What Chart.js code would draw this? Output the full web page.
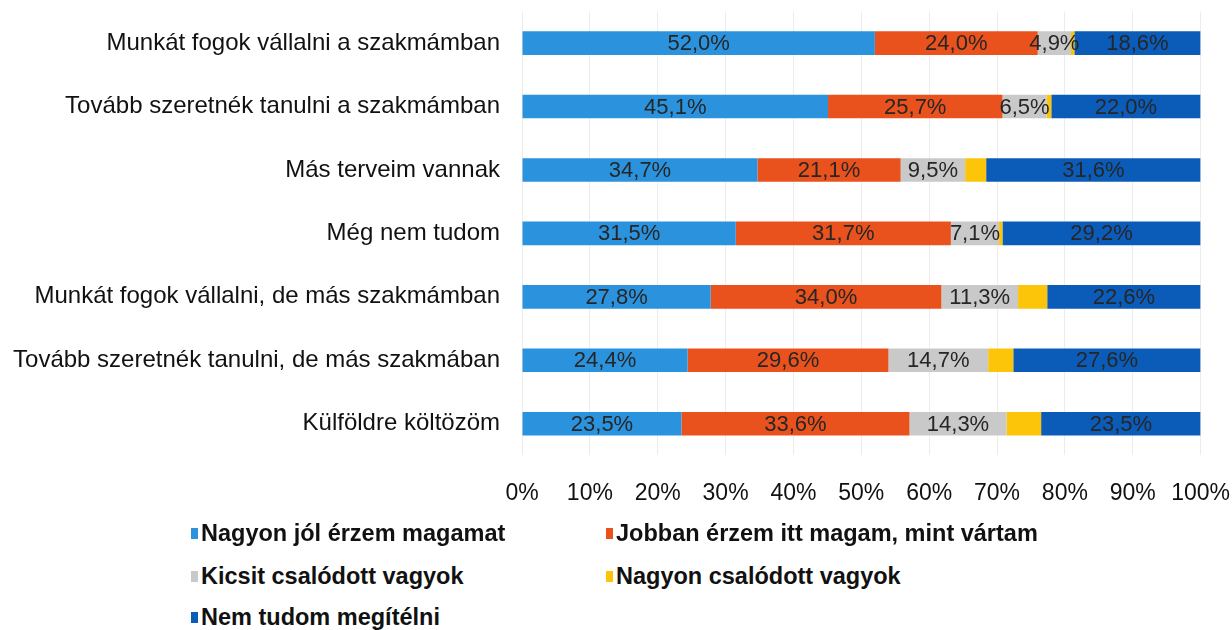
<!DOCTYPE html>
<html>
<head>
<meta charset="utf-8">
<script src="https://cdn.jsdelivr.net/npm/chart.js@4"></script>
<style>
  body { margin: 0; background: #fff; font-family: "Liberation Sans", Arial, sans-serif; }
  .wrap { position: relative; width: 1232px; height: 630px; overflow: hidden; }
  .chart-box { position: absolute; left: 0; top: -17px; width: 1254px; height: 548px; }
  .legend { position: absolute; left: 0; top: 0; width: 1232px; z-index: 2; }
  .legend .item { position: absolute; font-weight: bold; font-size: 23.5px; color: #111; white-space: nowrap; }
  .legend .sw { display: inline-block; width: 7px; height: 11px; margin-right: 3px; vertical-align: 2px; }
</style>
</head>
<body>
<div class="wrap">
  <div class="chart-box"><canvas id="chart"></canvas></div>
  <div class="legend" id="legend"></div>
</div>
<script>
const categories = [
  'Munkát fogok vállalni a szakmámban',
  'Tovább szeretnék tanulni a szakmámban',
  'Más terveim vannak',
  'Még nem tudom',
  'Munkát fogok vállalni, de más szakmámban',
  'Tovább szeretnék tanulni, de más szakmában',
  'Külföldre költözöm'
];
const seriesNames = [
  'Nagyon jól érzem magamat',
  'Jobban érzem itt magam, mint vártam',
  'Kicsit csalódott vagyok',
  'Nagyon csalódott vagyok',
  'Nem tudom megítélni'
];
const nagyonJol = [52.0, 45.1, 34.7, 31.5, 27.8, 24.4, 23.5];
const jobban = [24.0, 25.7, 21.1, 31.7, 34.0, 29.6, 33.6];
const kicsit = [4.9, 6.5, 9.5, 7.1, 11.3, 14.7, 14.3];
const nagyonCsal = [0.5, 0.7, 3.1, 0.5, 4.3, 3.7, 5.1];
const nemTudom = [18.6, 22.0, 31.6, 29.2, 22.6, 27.6, 23.5];
const colors = ['#2b93dd', '#e9521d', '#c9c9c9', '#fcc50a', '#0b5cb9'];
const showLabel = [true, true, true, false, true];

const values = [nagyonJol, jobban, kicsit, nagyonCsal, nemTudom];

const fmt = v => v.toFixed(1).replace('.', ',') + '%';

const labelPlugin = {
  id: 'segLabels',
  afterDatasetsDraw(chart) {
    const ctx = chart.ctx;
    ctx.save();
    ctx.font = '22px "Liberation Sans", Arial, sans-serif';
    ctx.fillStyle = '#262626';
    ctx.textAlign = 'center';
    ctx.textBaseline = 'middle';
    chart.data.datasets.forEach((ds, i) => {
      if (!showLabel[i]) return;
      const meta = chart.getDatasetMeta(i);
      meta.data.forEach((bar, j) => {
        const cx = (bar.x + bar.base) / 2;
        ctx.fillText(fmt(ds.data[j]), cx, bar.y + 1);
      });
    });
    ctx.restore();
  }
};

const chart = new Chart(document.getElementById('chart'), {
  type: 'bar',
  data: {
    labels: categories,
    datasets: values.map((v, i) => ({
      label: seriesNames[i],
      data: v,
      backgroundColor: colors[i],
      borderWidth: 0,
      barPercentage: 0.6,
      categoryPercentage: 0.62
    }))
  },
  options: {
    indexAxis: 'y',
    responsive: true,
    maintainAspectRatio: false,
    animation: false,
    layout: { padding: { top: 12, right: 12, bottom: 0, left: 0 } },
    plugins: {
      legend: { display: false },
      tooltip: { enabled: false }
    },
    scales: {
      x: {
        stacked: true,
        min: 0,
        max: 100,
        grid: { color: '#ececec', drawTicks: false },
        border: { display: false },
        ticks: {
          stepSize: 10,
          padding: 24,
          color: '#111',
          font: { family: '"Liberation Sans", Arial, sans-serif', size: 23 },
          callback: v => v + '%'
        }
      },
      y: {
        stacked: true,
        grid: { display: false },
        border: { display: false },
        afterFit(scale) { scale.width = 522; },
        ticks: {
          padding: 14,
          color: '#111',
          font: { family: '"Liberation Sans", Arial, sans-serif', size: 24 }
        }
      }
    }
  },
  plugins: [labelPlugin]
});

// legend in two columns
const legendPos = [
  [191, 520], [606, 520],
  [191, 563], [606, 563],
  [191, 604]
];
const legendEl = document.getElementById('legend');
seriesNames.forEach((name, i) => {
  const d = document.createElement('div');
  d.className = 'item';
  d.style.left = legendPos[i][0] + 'px';
  d.style.top = legendPos[i][1] + 'px';
  d.innerHTML = '<span class="sw" style="background:' + colors[i] + '"></span>' + name;
  legendEl.appendChild(d);
});
</script>
</body>
</html>
